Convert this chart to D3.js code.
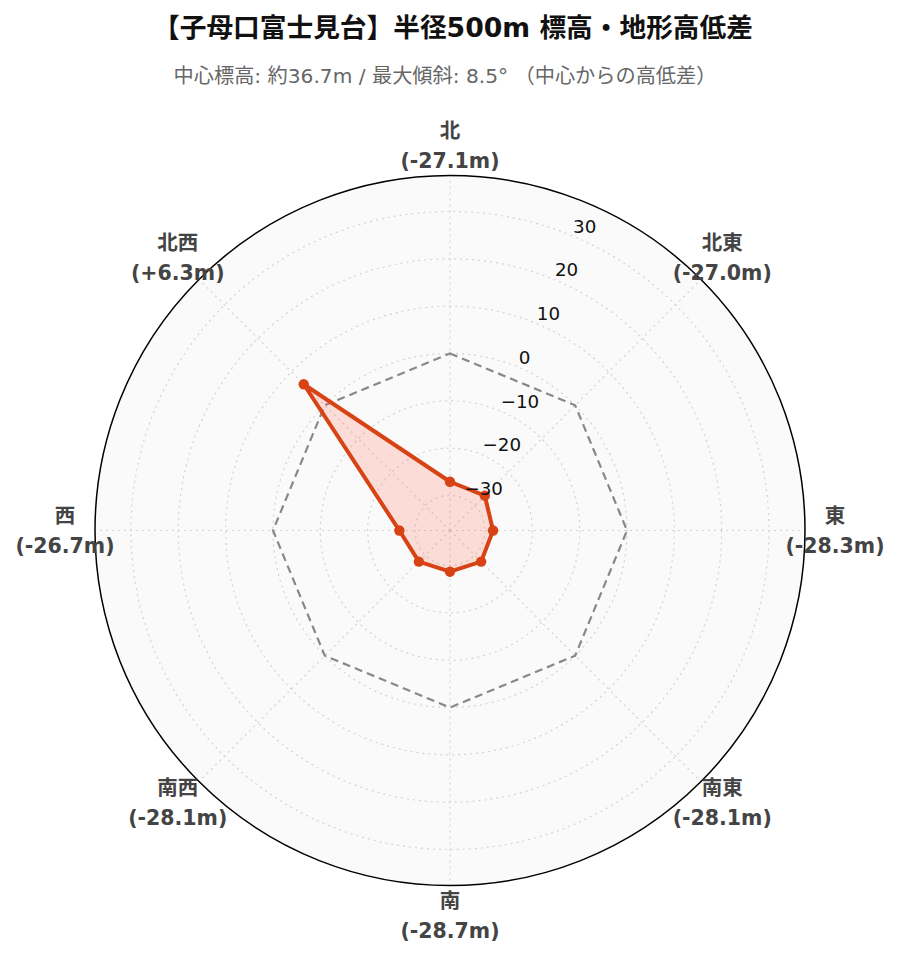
<!DOCTYPE html>
<html><head><meta charset="utf-8">
<script src="https://cdn.jsdelivr.net/npm/d3@7"></script>
<style>body{margin:0;background:#fff}</style>
</head><body>
<svg id="chart" width="899" height="962"></svg>
<script>
const directions = ["北","北東","東","南東","南","南西","西","北西"];
const elevDiff = [-27.1, -27.0, -28.3, -28.1, -28.7, -28.1, -26.7, 6.3];
const refLine = [0, 0, 0, 0, 0, 0, 0, 0];
const radialTicks = [-30, -20, -10, 0, 10, 20, 30];
const titleText = "【子母口富士見台】半径500m 標高・地形高低差";
const subtitleText = "中心標高: 約36.7m / 最大傾斜: 8.5° （中心からの高低差）";

const W = 899, H = 962;
const cx = 450, cy = 530.5, R = 355;
const svg = d3.select("#chart");
const LAB = "'DejaVu Sans', 'Noto Sans CJK JP', sans-serif";

const r = d3.scaleLinear().domain([-37.4, 37.6]).range([0, R]);
const ang = d3.scalePoint().domain(directions).range([0, 2*Math.PI*7/8]);
const pt = (dir, v) => {
  const a = ang(dir), rr = r(v);
  return [cx + rr*Math.sin(a), cy - rr*Math.cos(a)];
};

// title
svg.append("text").attr("x", 453).attr("y", 37).attr("text-anchor","middle")
  .attr("font-family", LAB).attr("font-weight","bold").attr("font-size", 26.7)
  .attr("fill","#111").text(titleText);
svg.append("text").attr("x", 445).attr("y", 83).attr("text-anchor","middle")
  .attr("font-family", LAB).attr("font-size", 20.2)
  .attr("fill","#666").text(subtitleText);

const g = svg.append("g");
g.append("circle").attr("cx",cx).attr("cy",cy).attr("r",R).attr("fill","#fafafa");

// radial grid
g.selectAll(".rg").data(radialTicks).join("circle")
  .attr("cx",cx).attr("cy",cy).attr("r",d=>r(d))
  .attr("fill","none").attr("stroke","#d3d3d3").attr("stroke-width",1.2).attr("stroke-dasharray","2,4");
// spokes
g.selectAll(".sp").data(directions).join("line")
  .attr("x1",cx).attr("y1",cy)
  .attr("x2",d=>pt(d, 37.6)[0]).attr("y2",d=>pt(d, 37.6)[1])
  .attr("stroke","#d3d3d3").attr("stroke-width",1.2).attr("stroke-dasharray","2,4");

// outer circle
g.append("circle").attr("cx",cx).attr("cy",cy).attr("r",R).attr("fill","none").attr("stroke","#000").attr("stroke-width",1.5);

const line = d3.line();
// reference dashed
g.append("path").attr("d", line(directions.map((d,i)=>pt(d, refLine[i]))) + "Z")
  .attr("fill","none").attr("stroke","#888").attr("stroke-width",2.2).attr("stroke-dasharray","8,5");

// data
g.append("path").attr("d", line(directions.map((d,i)=>pt(d, elevDiff[i]))) + "Z")
  .attr("fill","rgba(255,99,71,0.2)").attr("stroke","#d84315").attr("stroke-width",4).attr("stroke-linejoin","round");
g.selectAll(".mk").data(directions).join("circle")
  .attr("cx",(d,i)=>pt(d, elevDiff[i])[0]).attr("cy",(d,i)=>pt(d, elevDiff[i])[1])
  .attr("r",5.2).attr("fill","#d84315");

// radial tick labels along 22.5deg
const fmt = d3.format("d");
const axAng = Math.PI/8;
g.selectAll(".rt").data(radialTicks).join("text")
  .attr("x", d => cx + r(d)*Math.sin(axAng) + 1)
  .attr("y", d => cy - r(d)*Math.cos(axAng) - 3)
  .attr("font-family", LAB).attr("font-size", 18.3).attr("fill","#111")
  .text(d => fmt(d));

// angular labels
const fmtV = v => "(" + (v > 0 ? "+" : "") + v.toFixed(1) + "m)";
const LR = 385;
const al = g.selectAll(".al").data(directions).join("text")
  .attr("text-anchor","middle").attr("font-family", LAB).attr("font-weight","bold")
  .attr("font-size", 20.5).attr("fill","#444");
al.each(function(d,i){
  const a = ang(d);
  const x = cx + LR*Math.sin(a), y = cy - LR*Math.cos(a);
  const t = d3.select(this);
  t.append("tspan").attr("x", x).attr("y", y - 8).text(d);
  t.append("tspan").attr("x", x).attr("y", y + 22).text(fmtV(elevDiff[i]));
});
</script>
</body></html>
